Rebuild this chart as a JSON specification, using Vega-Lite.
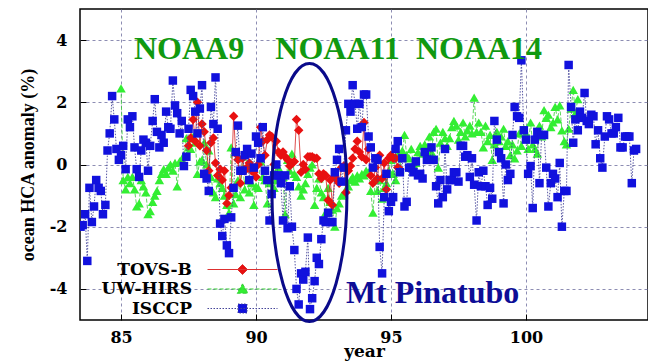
{
"$schema":"https://vega.github.io/schema/vega-lite/v6.json",
"width":568,"height":311,
"autosize":"none",
"padding":{"left":80,"top":9,"right":0,"bottom":42},
"background":"white",
"config":{"view":{"stroke":"black","strokeWidth":1.5},
"legend":{"orient":"none","legendX":154,"legendY":252,"labelAlign":"right","labelOffset":-59,"labelFont":"DejaVu Serif","labelFontWeight":"bold","labelFontSize":17,"labelColor":"black","labelLimit":400,"symbolSize":144,"rowPadding":1.5,"symbolStrokeWidth":1,"symbolOpacity":1}},
"datasets":{
"tovs":[{"x":87.5,"y":0.6},{"x":87.58,"y":0.85},{"x":87.67,"y":1.45},{"x":87.75,"y":0.75},{"x":87.83,"y":2.0},{"x":87.92,"y":0.6},{"x":88,"y":1.3},{"x":88.08,"y":1.05},{"x":88.17,"y":0.45},{"x":88.25,"y":-0.2},{"x":88.33,"y":0.7},{"x":88.42,"y":0.85},{"x":88.5,"y":0.05},{"x":88.58,"y":-0.35},{"x":88.67,"y":-0.15},{"x":88.75,"y":-0.5},{"x":88.83,"y":-0.2},{"x":88.92,"y":-1.25},{"x":89,"y":-1.0},{"x":89.08,"y":-0.75},{"x":89.17,"y":1.55},{"x":89.25,"y":0.35},{"x":89.33,"y":0.15},{"x":89.42,"y":-0.6},{"x":89.5,"y":0.2},{"x":89.58,"y":-0.2},{"x":89.67,"y":-0.1},{"x":89.75,"y":0.05},{"x":89.83,"y":-0.2},{"x":89.92,"y":-0.25},{"x":90,"y":-0.4},{"x":90.08,"y":0.0},{"x":90.17,"y":1.2},{"x":90.25,"y":0.75},{"x":90.33,"y":0.3},{"x":90.42,"y":0.8},{"x":90.5,"y":0.95},{"x":90.58,"y":0.9},{"x":90.67,"y":0.0},{"x":90.75,"y":0.75},{"x":90.83,"y":0.4},{"x":90.92,"y":0.3},{"x":91,"y":0.4},{"x":91.08,"y":0.25},{"x":91.17,"y":0.15},{"x":91.25,"y":-0.05},{"x":91.33,"y":0.05},{"x":91.42,"y":0.1},{"x":91.5,"y":1.45},{"x":91.58,"y":1.1},{"x":91.67,"y":-0.25},{"x":91.75,"y":0.0},{"x":91.83,"y":-0.15},{"x":91.92,"y":0.25},{"x":92,"y":0.25},{"x":92.08,"y":0.25},{"x":92.17,"y":0.2},{"x":92.25,"y":0.2},{"x":92.33,"y":-0.3},{"x":92.42,"y":-0.45},{"x":92.5,"y":-0.3},{"x":92.58,"y":-0.35},{"x":92.67,"y":-1.15},{"x":92.75,"y":-0.5},{"x":92.83,"y":-1.3},{"x":92.92,"y":-0.4},{"x":93,"y":-0.5},{"x":93.08,"y":-0.6},{"x":93.17,"y":-0.1},{"x":93.25,"y":-0.05},{"x":93.33,"y":-0.9},{"x":93.42,"y":-0.2},{"x":93.5,"y":-0.05},{"x":93.58,"y":0.2},{"x":93.67,"y":0.5},{"x":93.75,"y":0.75},{"x":93.83,"y":0.4},{"x":93.92,"y":0.25},{"x":94,"y":1.35},{"x":94.08,"y":0.15},{"x":94.17,"y":0.5},{"x":94.25,"y":-0.35},{"x":94.33,"y":-0.6},{"x":94.42,"y":-0.1},{"x":94.5,"y":-0.45},{"x":94.58,"y":0.3},{"x":94.67,"y":-0.45},{"x":94.75,"y":0.05},{"x":94.83,"y":-0.8},{"x":94.92,"y":0.2},{"x":95,"y":0.3},{"x":95.08,"y":0.2},{"x":95.17,"y":0.2},{"x":95.25,"y":-0.1},{"x":95.33,"y":-0.15}],
"hirs":[{"x":85,"y":2.45},{"x":85.08,"y":-0.5},{"x":85.17,"y":-0.8},{"x":85.25,"y":-0.4},{"x":85.33,"y":-0.6},{"x":85.42,"y":-0.4},{"x":85.5,"y":-0.8},{"x":85.58,"y":-1.35},{"x":85.67,"y":-1.25},{"x":85.75,"y":-0.5},{"x":85.83,"y":-0.7},{"x":85.92,"y":-0.9},{"x":86,"y":-1.6},{"x":86.08,"y":-1.5},{"x":86.17,"y":-1.2},{"x":86.25,"y":-1.0},{"x":86.33,"y":-0.85},{"x":86.42,"y":-0.5},{"x":86.5,"y":-0.3},{"x":86.58,"y":-0.15},{"x":86.67,"y":-0.3},{"x":86.75,"y":-0.1},{"x":86.83,"y":0.0},{"x":86.92,"y":-0.2},{"x":87,"y":0.05},{"x":87.08,"y":-0.7},{"x":87.17,"y":0.1},{"x":87.25,"y":0.15},{"x":87.33,"y":0.3},{"x":87.42,"y":0.85},{"x":87.5,"y":0.55},{"x":87.58,"y":0.5},{"x":87.67,"y":0.9},{"x":87.75,"y":0.7},{"x":87.83,"y":-0.3},{"x":87.92,"y":0.1},{"x":88,"y":0.15},{"x":88.08,"y":0.7},{"x":88.17,"y":0.0},{"x":88.25,"y":0.45},{"x":88.33,"y":-0.4},{"x":88.42,"y":-0.9},{"x":88.5,"y":-1.05},{"x":88.58,"y":-0.45},{"x":88.67,"y":-0.6},{"x":88.75,"y":-0.75},{"x":88.83,"y":-1.0},{"x":88.92,"y":-1.3},{"x":89,"y":-1.55},{"x":89.08,"y":0.55},{"x":89.17,"y":-1.25},{"x":89.25,"y":-0.95},{"x":89.33,"y":-0.5},{"x":89.42,"y":-1.05},{"x":89.5,"y":0.25},{"x":89.58,"y":-0.8},{"x":89.67,"y":-0.5},{"x":89.75,"y":-0.9},{"x":89.83,"y":-0.6},{"x":89.92,"y":-1.3},{"x":90,"y":-0.7},{"x":90.08,"y":-0.75},{"x":90.17,"y":0.1},{"x":90.25,"y":-0.4},{"x":90.33,"y":-0.5},{"x":90.42,"y":-1.25},{"x":90.5,"y":-0.6},{"x":90.58,"y":-0.85},{"x":90.67,"y":-0.75},{"x":90.75,"y":-0.5},{"x":90.83,"y":-0.1},{"x":90.92,"y":-0.3},{"x":91,"y":-0.4},{"x":91.08,"y":-1.6},{"x":91.17,"y":0.15},{"x":91.25,"y":-0.2},{"x":91.33,"y":0.35},{"x":91.42,"y":-0.3},{"x":91.5,"y":-0.4},{"x":91.58,"y":-0.7},{"x":91.67,"y":-1.0},{"x":91.75,"y":-0.8},{"x":91.83,"y":-0.6},{"x":91.92,"y":-0.3},{"x":92,"y":-0.1},{"x":92.08,"y":0.0},{"x":92.17,"y":-1.3},{"x":92.25,"y":-0.75},{"x":92.33,"y":-0.45},{"x":92.42,"y":-0.9},{"x":92.5,"y":-1.05},{"x":92.58,"y":-1.55},{"x":92.67,"y":-0.75},{"x":92.75,"y":-1.2},{"x":92.83,"y":-1.45},{"x":92.92,"y":-2.0},{"x":93,"y":-1.4},{"x":93.08,"y":-1.25},{"x":93.17,"y":-1.0},{"x":93.25,"y":-0.95},{"x":93.33,"y":-0.8},{"x":93.42,"y":-0.7},{"x":93.5,"y":-0.5},{"x":93.58,"y":-0.4},{"x":93.67,"y":-0.55},{"x":93.75,"y":-0.35},{"x":93.83,"y":-0.45},{"x":93.92,"y":-0.3},{"x":94,"y":-0.35},{"x":94.08,"y":-0.2},{"x":94.17,"y":-0.25},{"x":94.25,"y":-0.85},{"x":94.33,"y":-1.55},{"x":94.42,"y":-0.5},{"x":94.5,"y":-0.85},{"x":94.58,"y":-0.5},{"x":94.67,"y":-1.1},{"x":94.75,"y":-0.75},{"x":94.83,"y":-0.6},{"x":94.92,"y":-0.2},{"x":95,"y":0.15},{"x":95.08,"y":-0.3},{"x":95.17,"y":-0.5},{"x":95.25,"y":0.3},{"x":95.33,"y":-0.15},{"x":95.42,"y":0.45},{"x":95.5,"y":0.95},{"x":95.58,"y":0.3},{"x":95.67,"y":0.2},{"x":95.75,"y":0.5},{"x":95.83,"y":0.0},{"x":95.92,"y":0.05},{"x":96,"y":0.4},{"x":96.08,"y":0.6},{"x":96.17,"y":0.35},{"x":96.25,"y":0.65},{"x":96.33,"y":0.5},{"x":96.42,"y":0.9},{"x":96.5,"y":0.4},{"x":96.58,"y":1.05},{"x":96.67,"y":1.15},{"x":96.75,"y":-0.1},{"x":96.83,"y":0.7},{"x":96.92,"y":1.05},{"x":97,"y":0.85},{"x":97.08,"y":0.6},{"x":97.17,"y":0.85},{"x":97.25,"y":1.2},{"x":97.33,"y":1.4},{"x":97.42,"y":1.25},{"x":97.5,"y":0.8},{"x":97.58,"y":1.05},{"x":97.67,"y":1.35},{"x":97.75,"y":0.9},{"x":97.83,"y":1.1},{"x":97.92,"y":1.25},{"x":98,"y":1.0},{"x":98.08,"y":2.15},{"x":98.17,"y":1.05},{"x":98.25,"y":1.35},{"x":98.33,"y":1.05},{"x":98.42,"y":0.55},{"x":98.5,"y":1.25},{"x":98.58,"y":0.75},{"x":98.67,"y":0.95},{"x":98.75,"y":0.15},{"x":98.83,"y":0.65},{"x":98.92,"y":1.05},{"x":99,"y":0.75},{"x":99.08,"y":0.9},{"x":99.17,"y":1.15},{"x":99.25,"y":0.6},{"x":99.33,"y":0.75},{"x":99.42,"y":0.3},{"x":99.5,"y":0.65},{"x":99.58,"y":0.2},{"x":99.67,"y":0.45},{"x":99.75,"y":1.0},{"x":99.83,"y":0.6},{"x":99.92,"y":1.15},{"x":100,"y":1.0},{"x":100.08,"y":0.5},{"x":100.17,"y":1.35},{"x":100.25,"y":0.65},{"x":100.33,"y":0.5},{"x":100.42,"y":0.35},{"x":100.5,"y":1.25},{"x":100.58,"y":0.9},{"x":100.67,"y":1.75},{"x":100.75,"y":1.5},{"x":100.83,"y":1.6},{"x":100.92,"y":1.2},{"x":101,"y":1.35},{"x":101.08,"y":1.85},{"x":101.17,"y":1.45},{"x":101.25,"y":1.9},{"x":101.33,"y":1.1},{"x":101.42,"y":0.75},{"x":101.5,"y":0.65},{"x":101.58,"y":1.15},{"x":101.67,"y":1.8},{"x":101.75,"y":2.4},{"x":101.83,"y":1.65},{"x":101.92,"y":2.1}],
"isccp":[{"x":83.5,"y":-2.0},{"x":83.58,"y":-1.95},{"x":83.67,"y":-1.6},{"x":83.75,"y":-3.1},{"x":83.83,"y":-0.75},{"x":83.92,"y":-1.85},{"x":84,"y":-1.35},{"x":84.08,"y":-0.5},{"x":84.17,"y":-0.75},{"x":84.25,"y":-0.85},{"x":84.33,"y":-1.6},{"x":84.42,"y":-1.3},{"x":84.5,"y":0.45},{"x":84.58,"y":1.0},{"x":84.67,"y":2.2},{"x":84.75,"y":1.45},{"x":84.83,"y":0.5},{"x":84.92,"y":0.15},{"x":85,"y":0.3},{"x":85.08,"y":0.6},{"x":85.17,"y":-0.15},{"x":85.25,"y":1.45},{"x":85.33,"y":1.2},{"x":85.42,"y":1.55},{"x":85.5,"y":0.55},{"x":85.58,"y":-0.15},{"x":85.67,"y":-0.4},{"x":85.75,"y":0.45},{"x":85.83,"y":0.8},{"x":85.92,"y":0.7},{"x":86,"y":-0.2},{"x":86.08,"y":0.6},{"x":86.17,"y":1.4},{"x":86.25,"y":2.1},{"x":86.33,"y":1.05},{"x":86.42,"y":0.55},{"x":86.5,"y":0.95},{"x":86.58,"y":0.7},{"x":86.67,"y":1.7},{"x":86.75,"y":1.2},{"x":86.83,"y":1.15},{"x":86.92,"y":2.7},{"x":87,"y":1.9},{"x":87.08,"y":1.65},{"x":87.17,"y":1.0},{"x":87.25,"y":1.4},{"x":87.33,"y":-0.05},{"x":87.42,"y":0.25},{"x":87.5,"y":1.15},{"x":87.58,"y":2.4},{"x":87.67,"y":2.2},{"x":87.75,"y":1.7},{"x":87.83,"y":1.0},{"x":87.92,"y":1.8},{"x":88,"y":2.55},{"x":88.08,"y":-0.3},{"x":88.17,"y":-0.45},{"x":88.25,"y":-0.85},{"x":88.33,"y":1.85},{"x":88.42,"y":1.3},{"x":88.5,"y":2.8},{"x":88.58,"y":1.15},{"x":88.67,"y":-1.9},{"x":88.75,"y":-2.3},{"x":88.83,"y":-1.75},{"x":88.92,"y":-2.6},{"x":89,"y":-2.85},{"x":89.08,"y":-1.7},{"x":89.17,"y":-0.75},{"x":89.25,"y":0.4},{"x":89.33,"y":1.25},{"x":89.42,"y":-0.2},{"x":89.5,"y":-0.2},{"x":89.58,"y":0.3},{"x":89.67,"y":0.5},{"x":89.75,"y":-0.5},{"x":89.83,"y":0.35},{"x":89.92,"y":-0.1},{"x":90,"y":0.9},{"x":90.08,"y":0.7},{"x":90.17,"y":0.2},{"x":90.25,"y":1.2},{"x":90.33,"y":-0.2},{"x":90.42,"y":-0.5},{"x":90.5,"y":-1.8},{"x":90.58,"y":-0.95},{"x":90.67,"y":-0.35},{"x":90.75,"y":0.0},{"x":90.83,"y":-0.35},{"x":90.92,"y":-0.6},{"x":91,"y":-1.8},{"x":91.08,"y":-0.35},{"x":91.17,"y":-2.05},{"x":91.25,"y":-0.7},{"x":91.33,"y":-2.0},{"x":91.42,"y":-2.75},{"x":91.5,"y":-4.0},{"x":91.58,"y":-4.5},{"x":91.67,"y":-3.5},{"x":91.75,"y":-3.7},{"x":91.83,"y":-3.45},{"x":91.92,"y":-2.35},{"x":92,"y":-4.65},{"x":92.08,"y":-4.3},{"x":92.17,"y":-3.75},{"x":92.25,"y":-3.0},{"x":92.33,"y":-3.2},{"x":92.42,"y":-2.4},{"x":92.5,"y":-1.8},{"x":92.58,"y":-1.85},{"x":92.67,"y":-1.55},{"x":92.75,"y":-1.85},{"x":92.83,"y":-1.85},{"x":92.92,"y":-0.25},{"x":93,"y":0.15},{"x":93.08,"y":0.5},{"x":93.17,"y":-0.55},{"x":93.25,"y":-0.1},{"x":93.33,"y":1.1},{"x":93.42,"y":1.95},{"x":93.5,"y":1.7},{"x":93.58,"y":2.55},{"x":93.67,"y":1.95},{"x":93.75,"y":1.15},{"x":93.83,"y":1.95},{"x":93.92,"y":1.2},{"x":94,"y":2.25},{"x":94.08,"y":2.25},{"x":94.17,"y":0.9},{"x":94.25,"y":0.55},{"x":94.33,"y":-0.1},{"x":94.42,"y":0.2},{"x":94.5,"y":0.15},{"x":94.58,"y":-2.65},{"x":94.67,"y":-3.5},{"x":94.75,"y":-1.05},{"x":94.83,"y":-0.3},{"x":94.92,"y":-1.5},{"x":95,"y":-1.2},{"x":95.08,"y":-1.05},{"x":95.17,"y":0.5},{"x":95.25,"y":0.75},{"x":95.33,"y":-0.25},{"x":95.42,"y":0.2},{"x":95.5,"y":-1.35},{"x":95.58,"y":-1.2},{"x":95.67,"y":-0.1},{"x":95.75,"y":-0.1},{"x":95.83,"y":-0.25},{"x":95.92,"y":0.1},{"x":96,"y":-0.35},{"x":96.08,"y":-0.3},{"x":96.17,"y":-0.45},{"x":96.25,"y":0.4},{"x":96.33,"y":0.15},{"x":96.42,"y":0.15},{"x":96.5,"y":0.55},{"x":96.58,"y":0.15},{"x":96.67,"y":-0.7},{"x":96.75,"y":-1.25},{"x":96.83,"y":-0.5},{"x":96.92,"y":-1.05},{"x":97,"y":0.5},{"x":97.08,"y":-0.8},{"x":97.17,"y":-0.5},{"x":97.25,"y":-0.5},{"x":97.33,"y":-0.25},{"x":97.42,"y":-0.25},{"x":97.5,"y":-0.55},{"x":97.58,"y":0.6},{"x":97.67,"y":0.6},{"x":97.75,"y":0.25},{"x":97.83,"y":0.3},{"x":97.92,"y":-0.4},{"x":98,"y":0.2},{"x":98.08,"y":-0.65},{"x":98.17,"y":-1.8},{"x":98.25,"y":-0.25},{"x":98.33,"y":-0.7},{"x":98.42,"y":-0.2},{"x":98.5,"y":-0.7},{"x":98.58,"y":-1.3},{"x":98.67,"y":-0.75},{"x":98.75,"y":-1.1},{"x":98.83,"y":1.4},{"x":98.92,"y":0.8},{"x":99,"y":0.4},{"x":99.08,"y":0.2},{"x":99.17,"y":-1.25},{"x":99.25,"y":0.0},{"x":99.33,"y":-0.5},{"x":99.42,"y":-0.3},{"x":99.5,"y":0.95},{"x":99.58,"y":1.85},{"x":99.67,"y":1.55},{"x":99.75,"y":1.5},{"x":99.83,"y":3.35},{"x":99.92,"y":1.1},{"x":100,"y":0.8},{"x":100.08,"y":-0.3},{"x":100.17,"y":-0.05},{"x":100.25,"y":-1.4},{"x":100.33,"y":0.8},{"x":100.42,"y":1.05},{"x":100.5,"y":-0.6},{"x":100.58,"y":0.95},{"x":100.67,"y":0.95},{"x":100.75,"y":-0.1},{"x":100.83,"y":-1.35},{"x":100.92,"y":-0.6},{"x":101,"y":-0.3},{"x":101.08,"y":-0.45},{"x":101.17,"y":-1.05},{"x":101.25,"y":0.05},{"x":101.33,"y":-2.0},{"x":101.42,"y":-0.85},{"x":101.5,"y":-0.85},{"x":101.58,"y":3.2},{"x":101.67,"y":1.85},{"x":101.75,"y":0.7},{"x":101.83,"y":1.45},{"x":101.92,"y":1.1},{"x":102,"y":1.7},{"x":102.08,"y":1.5},{"x":102.17,"y":2.3},{"x":102.25,"y":1.4},{"x":102.33,"y":1.3},{"x":102.42,"y":1.6},{"x":102.5,"y":1.55},{"x":102.58,"y":0.65},{"x":102.67,"y":1.1},{"x":102.75,"y":0.2},{"x":102.83,"y":-0.1},{"x":102.92,"y":0.9},{"x":103,"y":1.55},{"x":103.08,"y":1.45},{"x":103.17,"y":1.0},{"x":103.25,"y":1.0},{"x":103.33,"y":1.2},{"x":103.42,"y":1.5},{"x":103.5,"y":0.55},{"x":103.58,"y":0.55},{"x":103.67,"y":0.9},{"x":103.75,"y":0.9},{"x":103.83,"y":0.9},{"x":103.92,"y":-0.6},{"x":104,"y":0.45},{"x":104.08,"y":0.5}],
"keys":[{"s":"TOVS-B"},{"s":"UW-HIRS"},{"s":"ISCCP"}],
"noaa":[{"t":"NOAA9","x":87.52,"y":3.38},{"t":"NOAA11","x":93.02,"y":3.38},{"t":"NOAA14","x":98.26,"y":3.38}],
"pina":[{"t":"Mt Pinatubo","x":93.33,"y":-4.44}],
"ell":[{"x":91.98,"y":-0.9}]
},
"encoding":{
"x":{"field":"x","type":"quantitative","scale":{"domain":[83.48,104.52],"nice":false,"zero":false},
"axis":{"values":[85,90,95,100],"labelExpr":"''+datum.value","grid":true,"gridColor":"#7070a0","gridDash":[3,3],"gridWidth":0.8,"domain":false,"tickSize":-6,"tickColor":"black","labelFont":"DejaVu Serif","labelFontWeight":"bold","labelFontSize":16,"labelColor":"black","labelPadding":15,"title":"year","titleFont":"DejaVu Serif","titleFontWeight":"bold","titleFontSize":17,"titleColor":"black","titleY":36,"titleBaseline":"alphabetic"}},
"y":{"field":"y","type":"quantitative","scale":{"domain":[-5,5],"nice":false,"zero":false},
"axis":{"values":[-4,-2,0,2,4],"labelExpr":"''+datum.value","grid":true,"gridColor":"#7070a0","gridDash":[3,3],"gridWidth":0.8,"domain":false,"tickSize":-6,"tickColor":"black","labelFont":"DejaVu Serif","labelFontWeight":"bold","labelFontSize":16,"labelColor":"black","labelPadding":19,"title":"ocean HCA anomaly (%)","titleFont":"Liberation Serif","titleFontWeight":"bold","titleFontSize":18,"titleColor":"black","titleX":-47,"titleY":155.5,"titleBaseline":"alphabetic","titleAngle":270}}
},
"layer":[
{"data":{"name":"hirs"},"mark":{"type":"line","color":"#33cc33","strokeWidth":0.8,"strokeDash":[4,2],"clip":true}},
{"data":{"name":"hirs"},"mark":{"type":"point","shape":"triangle-up","filled":true,"size":90,"opacity":1,"color":"#33ee33","clip":true}},
{"data":{"name":"tovs"},"mark":{"type":"line","color":"#d42020","strokeWidth":0.8,"clip":true}},
{"data":{"name":"tovs"},"mark":{"type":"point","shape":"diamond","filled":true,"size":90,"opacity":1,"color":"#e81010","clip":true}},
{"data":{"name":"isccp"},"mark":{"type":"line","color":"#444499","strokeWidth":0.9,"strokeDash":[1.5,1.5],"clip":true}},
{"data":{"name":"isccp"},"mark":{"type":"point","shape":"square","filled":true,"size":72,"opacity":1,"color":"#1111dd","clip":true}},
{"data":{"name":"keys"},"mark":{"type":"point","filled":true,"opacity":1,"clip":true},
 "encoding":{
 "fill":{"field":"s","type":"nominal","scale":{"domain":["TOVS-B","UW-HIRS","ISCCP"],"range":["#e81010","#33ee33","#1111dd"]},"legend":{"title":null}},
 "stroke":{"field":"s","type":"nominal","scale":{"domain":["TOVS-B","UW-HIRS","ISCCP"],"range":["#dd3030","#33cc33","#444499"]},"legend":{"title":null}},
 "shape":{"field":"s","type":"nominal","scale":{"domain":["TOVS-B","UW-HIRS","ISCCP"],"range":["M-5.833,0L5.833,0M0,-0.833L0.833,0L0,0.833L-0.833,0Z","M-5.833,0L5.833,0M0,-0.85L0.9,0.7L-0.9,0.7Z","M-5.833,0L5.833,0M-0.75,-0.75L0.75,-0.75L0.75,0.75L-0.75,0.75Z"]},"legend":{"title":null}},
 "strokeDash":{"field":"s","type":"nominal","scale":{"domain":["TOVS-B","UW-HIRS","ISCCP"],"range":[[1000,0],[4,2],[1.5,1.5]]},"legend":{"title":null}}
 }},
{"data":{"name":"noaa"},"mark":{"type":"text","font":"Liberation Serif","fontWeight":"bold","fontSize":32,"color":"#109910","align":"center","baseline":"alphabetic"},"encoding":{"text":{"field":"t"}}},
{"data":{"name":"pina"},"mark":{"type":"text","font":"Liberation Serif","fontWeight":"bold","fontSize":32,"color":"#0d0d96","align":"left","baseline":"alphabetic"},"encoding":{"text":{"field":"t"}}},
{"data":{"name":"ell"},"mark":{"type":"point","shape":"M0,-1C0.1606,-1 0.2907,-0.5523 0.2907,0C0.2907,0.5523 0.1606,1 0,1C-0.1606,1 -0.2907,0.5523 -0.2907,0C-0.2907,-0.5523 -0.1606,-1 0,-1Z","size":66564,"filled":false,"color":"#0a0a8a","strokeWidth":3,"opacity":1}}
]
}
